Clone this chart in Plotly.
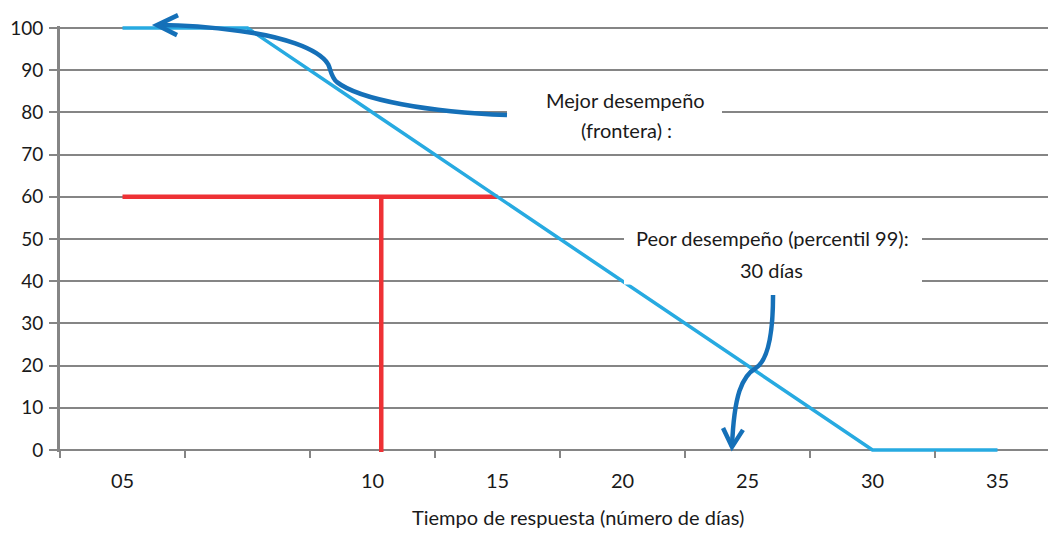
import plotly.graph_objects as go

# x categories (number of days) and series
day_labels = ["05", "", "10", "15", "20", "25", "30", "35"]
day_pos = list(range(len(day_labels)))
frontier = [100, 100, 80, 60, 40, 20, 0, 0]

# red reference lines (target level and cut day)
target_x = [0, 3]
target_y = [60, 60]
cut_x = [2.07, 2.07]
cut_y = [60, -0.5]

y_ticks = list(range(0, 101, 10))

FONT = "Lato, Roboto, sans-serif"
GRID = "#858585"
LIGHT_BLUE = "#27aae1"
DARK_BLUE = "#1570b8"
RED = "#ee3135"

XR = [-0.5, 7.468]
YR = [-0.5, 100.5]


def px(x, y):
    # data units -> paper fraction (shapes outside the plot area are not clipped)
    return (x - XR[0]) / (XR[1] - XR[0]), (y - YR[0]) / (YR[1] - YR[0])


def path(cmds):
    out = []
    for c, pts in cmds:
        coords = " ".join("%.4f,%.4f" % px(x, y) for x, y in pts)
        out.append(c + coords)
    return " ".join(out)


fig = go.Figure()

fig.add_trace(go.Scatter(x=target_x, y=target_y, mode="lines",
                         line=dict(color=RED, width=4.5), hoverinfo="skip"))
fig.add_trace(go.Scatter(x=cut_x, y=cut_y, mode="lines",
                         line=dict(color=RED, width=4.5), hoverinfo="skip"))
fig.add_trace(go.Scatter(x=day_pos, y=frontier, mode="lines",
                         line=dict(color=LIGHT_BLUE, width=3.5), hoverinfo="skip"))

# white boxes behind the labels
shapes = [
    dict(type="rect", xref="x", yref="y", x0=3.076, x1=4.796, y0=71.0, y1=89.0,
         fillcolor="white", line=dict(width=0), layer="above"),
    dict(type="rect", xref="x", yref="y", x0=4.012, x1=6.396, y0=39.2, y1=54.5,
         fillcolor="white", line=dict(width=0), layer="above"),
]

# hand-drawn arrows
arrow1 = path([
    ("M", [(3.076, 79.38)]),
    ("C", [(2.46, 80.09), (1.90, 82.94), (1.716, 87.20)]),
    ("C", [(1.668, 88.39), (1.668, 90.05), (1.644, 91.47)]),
    ("C", [(1.564, 95.26), (1.26, 98.10), (0.94, 99.29)]),
    ("C", [(0.70, 100.24), (0.50, 100.71), (0.30, 100.71)]),
])
head1 = path([("M", [(0.444, 103.08)]), ("L", [(0.276, 100.71)]), ("L", [(0.436, 98.34)])])
arrow2 = path([
    ("M", [(5.204, 36.73)]),
    ("C", [(5.204, 27.25), (5.164, 21.33), (5.068, 19.43)]),
    ("C", [(4.956, 17.54), (4.892, 13.03), (4.876, 0.71)]),
])
head2 = path([("M", [(4.804, 5.21)]), ("L", [(4.876, 0.71)]), ("L", [(4.964, 4.74)])])

for p in (arrow1, head1, arrow2, head2):
    shapes.append(dict(type="path", xref="paper", yref="paper", path=p,
                       line=dict(color=DARK_BLUE, width=4.5), layer="above"))

txt = dict(family=FONT, size=20, color="#1a1a1a")
notes = [
    ("Mejor desempeño", 4.02, 82.9),
    ("(frontera) :", 4.03, 75.8),
    ("Peor desempeño (percentil 99):", 5.2, 50.2),
    ("30 días", 5.19, 42.65),
]
annotations = [dict(text=t, x=x, y=y, xref="x", yref="y", showarrow=False,
                    font=txt, xanchor="center", yanchor="middle")
               for t, x, y in notes]
annotations.append(dict(text="Tiempo de respuesta (número de días)",
                        xref="paper", yref="paper", x=0.52, y=-0.152,
                        showarrow=False, font=txt, xanchor="center", yanchor="middle"))

# the page body adds an 8px offset, so the figure is drawn 8px smaller
fig.update_layout(
    width=1048, height=520,
    margin=dict(l=52, r=0, t=18, b=76),
    paper_bgcolor="white", plot_bgcolor="white",
    showlegend=False,
    font=txt,
    shapes=shapes,
    annotations=annotations,
    xaxis=dict(
        range=XR, anchor="free", position=0.5 / 101,
        showgrid=False, zeroline=False, showline=False,
        tickmode="array", tickvals=day_pos, ticktext=day_labels,
        ticks="", ticklabelstandoff=17,
        minor=dict(tickmode="array", tickvals=[p - 0.5 for p in range(9)],
                   ticks="outside", ticklen=7, tickwidth=2, tickcolor=GRID),
        automargin=False,
    ),
    yaxis=dict(
        range=YR, tickmode="array", tickvals=y_ticks,
        tickfont=dict(family=FONT, size=19, color="#1a1a1a"),
        showgrid=True, gridcolor=GRID, gridwidth=2, zeroline=False,
        showline=True, linecolor=GRID, linewidth=3,
        ticks="outside", ticklen=8, tickwidth=2, tickcolor=GRID,
        ticklabelstandoff=2, automargin=False,
    ),
)

fig.write_html("out.html")
